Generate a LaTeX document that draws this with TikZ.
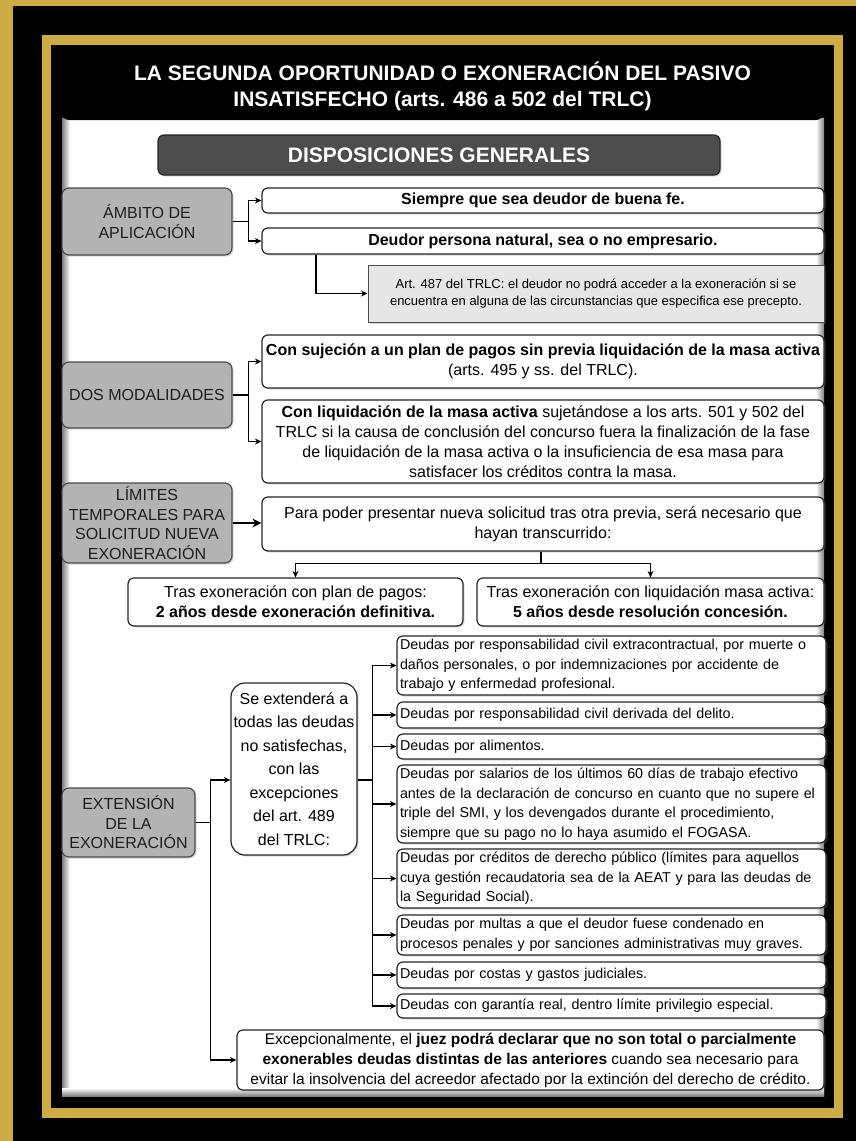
\documentclass[tikz,border=0pt]{standalone}
\usepackage{fontspec}
\setmainfont{Liberation Sans}
\usepackage{tikz}
\usetikzlibrary{shapes,arrows,arrows.meta,positioning,shadows}

\definecolor{gold}{RGB}{207,171,69}
\definecolor{catgray}{RGB}{179,179,179}
\definecolor{darkbox}{RGB}{77,77,77}
\definecolor{notegray}{RGB}{230,230,230}

\begin{document}
\begin{tikzpicture}[
    x=1pt,
    y=-1pt,
    titlebox/.style={
        rectangle,
        rounded corners=8pt,
        fill=black,
        text=white,
        align=center,
        font=\fontsize{21}{26}\selectfont\bfseries,
        inner sep=0pt
    },
    header/.style={
        rectangle,
        rounded corners=6pt,
        draw=black!85,
        line width=1.2pt,
        fill=darkbox,
        text=white,
        font=\fontsize{21}{26}\selectfont\bfseries,
        inner sep=0pt,
        drop shadow={shadow xshift=1.5pt, shadow yshift=-1.5pt, opacity=0.3}
    },
    category/.style={
        rectangle,
        rounded corners=7pt,
        draw=black!70,
        line width=1.2pt,
        fill=catgray,
        text=black!88,
        align=center,
        font=\fontsize{16}{19.5}\selectfont,
        inner sep=0pt,
        minimum width=170pt,
        drop shadow={shadow xshift=1.5pt, shadow yshift=-1.5pt, opacity=0.3}
    },
    item/.style={
        rectangle,
        rounded corners=6pt,
        draw=black!85,
        line width=1.2pt,
        fill=white,
        align=center,
        font=\fontsize{16}{20}\selectfont,
        inner sep=0pt,
        minimum width=562pt,
        drop shadow={shadow xshift=1.5pt, shadow yshift=-1.5pt, opacity=0.3}
    },
    note/.style={
        rectangle,
        draw=black!70,
        line width=1pt,
        fill=notegray,
        align=center,
        font=\fontsize{13}{17}\selectfont,
        inner sep=0pt,
        drop shadow={shadow xshift=1.5pt, shadow yshift=-1.5pt, opacity=0.3}
    },
    debt/.style={
        item,
        align=left,
        font=\fontsize{14.3}{19.5}\selectfont,
        minimum width=429pt,
        text width=423pt
    },
    line/.style={
        line width=1.2pt
    },
    arrow/.style={
        line width=1.2pt,
        ->,
        >={Stealth[length=6.5pt, width=6pt]}
    },
    bigarrow/.style={
        line width=2.5pt,
        ->,
        >={Stealth[length=9pt, width=9pt]}
    }
]

\useasboundingbox (0,0) rectangle (856,1141);

% Marco
\fill[black] (0,0) rectangle (856,1141);
\fill[gold] (0,0) rectangle (856,6);
\fill[gold] (0,0) rectangle (13,1141);
\draw[gold, line width=9.5pt] (46.5,40) rectangle (838.5,1113);
\fill[white] (62,118) rectangle (824,1096);
\shade[left color=black!50, right color=white] (62,118) rectangle (70,1096);
\shade[left color=white, right color=black!50] (816,118) rectangle (824,1096);
\shade[top color=white, bottom color=black!50] (62,1088) rectangle (824,1096);

% Titulo
\node[titlebox, minimum width=763pt, minimum height=67pt] (title) at (442.5,86.5) {
    LA SEGUNDA OPORTUNIDAD O EXONERACIÓN DEL PASIVO\\
    INSATISFECHO (arts. 486 a 502 del TRLC)
};
\node[header, minimum width=562pt, minimum height=40pt] (general) at (439,155) {DISPOSICIONES GENERALES};

% Ámbito de aplicación
\node[category, minimum height=67pt] (ambito) at (147,221.5) {ÁMBITO DE\\APLICACIÓN};
\node[item, minimum height=25pt] (buenafe) at (543,200.5) {\textbf{Siempre que sea deudor de buena fe.}};
\node[item, minimum height=26pt] (natural) at (543,241) {\textbf{Deudor persona natural, sea o no empresario.}};
\node[note, minimum width=456pt, minimum height=57pt] (art) at (596,293.5) {
    Art. 487 del TRLC: el deudor no podrá acceder a la exoneración si se\\
    encuentra en alguna de las circunstancias que especifica ese precepto.
};

% Dos modalidades
\node[category, minimum height=66pt] (modos) at (147,395) {DOS MODALIDADES};
\node[item, minimum height=53pt] (plan) at (543,361.5) {
    \textbf{Con sujeción a un plan de pagos sin previa liquidación de la masa activa}\\
    (arts. 495 y ss. del TRLC).
};
\node[item, minimum height=83pt] (liquid) at (543,441.5) {
    \textbf{Con liquidación de la masa activa} sujetándose a los arts. 501 y 502 del\\
    TRLC si la causa de conclusión del concurso fuera la finalización de la fase\\
    de liquidación de la masa activa o la insuficiencia de esa masa para\\
    satisfacer los créditos contra la masa.
};

% Límites temporales
\node[category, minimum height=80pt] (limites) at (147,523) {LÍMITES\\TEMPORALES PARA\\SOLICITUD NUEVA\\EXONERACIÓN};
\node[item, minimum height=54pt] (solicitud) at (543,524) {
    Para poder presentar nueva solicitud tras otra previa, será necesario que\\
    hayan transcurrido:
};
\node[item, minimum width=335pt, minimum height=48pt] (dosanos) at (295.5,602) {
    Tras exoneración con plan de pagos:\\
    \textbf{2 años desde exoneración definitiva.}
};
\node[item, minimum width=347pt, minimum height=48pt] (cincoanos) at (650.5,602) {
    Tras exoneración con liquidación masa activa:\\
    \textbf{5 años desde resolución concesión.}
};

% Extensión de la exoneración
\node[category, minimum width=133pt, minimum height=69pt] (extension) at (128.5,822.5) {EXTENSIÓN\\DE LA\\EXONERACIÓN};
\node[item, rounded corners=14pt, minimum width=126pt, minimum height=172pt, font=\fontsize{16}{23.5}\selectfont] (todas) at (294,769) {
    Se extenderá a\\todas las deudas\\no satisfechas,\\con las\\excepciones\\del art. 489\\del TRLC:
};
\node[debt, minimum height=59pt] (civil) at (611.5,665.5) {
    Deudas por responsabilidad civil extracontractual, por muerte o\\
    daños personales, o por indemnizaciones por accidente de\\
    trabajo y enfermedad profesional.
};
\node[debt, minimum height=26pt] (delito) at (611.5,715) {Deudas por responsabilidad civil derivada del delito.};
\node[debt, minimum height=25pt] (alimentos) at (611.5,746.5) {Deudas por alimentos.};
\node[debt, minimum height=78pt] (salarios) at (611.5,804) {
    Deudas por salarios de los últimos 60 días de trabajo efectivo\\
    antes de la declaración de concurso en cuanto que no supere el\\
    triple del SMI, y los devengados durante el procedimiento,\\
    siempre que su pago no lo haya asumido el FOGASA.
};
\node[debt, minimum height=59pt] (publico) at (611.5,878.5) {
    Deudas por créditos de derecho público (límites para aquellos\\
    cuya gestión recaudatoria sea de la AEAT y para las deudas de\\
    la Seguridad Social).
};
\node[debt, minimum height=40pt] (multas) at (611.5,935) {
    Deudas por multas a que el deudor fuese condenado en\\
    procesos penales y por sanciones administrativas muy graves.
};
\node[debt, minimum height=26pt] (costas) at (611.5,975) {Deudas por costas y gastos judiciales.};
\node[debt, minimum height=24pt] (garantia) at (611.5,1006) {Deudas con garantía real, dentro límite privilegio especial.};
\node[item, minimum width=587pt, minimum height=60pt, font=\fontsize{15.5}{20}\selectfont] (juez) at (530.5,1060) {
    Excepcionalmente, el \textbf{juez podrá declarar que no son total o parcialmente}\\
    \textbf{exonerables deudas distintas de las anteriores} cuando sea necesario para\\
    evitar la insolvencia del acreedor afectado por la extinción del derecho de crédito.
};

% Conectores
\draw[line] (ambito.east) -- ++(16,0) coordinate (ambitobus);
\draw[arrow] (ambitobus) |- (buenafe.west);
\draw[arrow] (ambitobus) |- (natural.west);
\draw[arrow] ([xshift=-227pt]natural.south) |- (art.west);

\draw[line] (modos.east) -- ++(16,0) coordinate (modosbus);
\draw[arrow] (modosbus) |- (plan.west);
\draw[arrow] (modosbus) |- (liquid.west);

\draw[bigarrow] (limites.east) -- (limites.east -| solicitud.west);
\draw[line] ([xshift=-2pt]solicitud.south) -- ++(0,12) coordinate (split);
\draw[arrow] (split) -| (dosanos.north);
\draw[arrow] (split) -| (cincoanos.north);

\draw[line] (extension.east) -- ++(15,0) coordinate (extbus);
\draw[arrow] (extbus) |- ([yshift=-11pt]todas.west);
\draw[arrow] (extbus) |- (juez.west);

\draw[line width=2.5pt] ([yshift=-11pt]todas.east) -- ++(15,0) coordinate (debtbus);
\draw[arrow] (debtbus) |- (civil.west);
\draw[arrow] (debtbus) |- (delito.west);
\draw[arrow] (debtbus) |- (alimentos.west);
\draw[arrow] (debtbus) |- (salarios.west);
\draw[arrow] (debtbus) |- (publico.west);
\draw[arrow] (debtbus) |- (multas.west);
\draw[arrow] (debtbus) |- (costas.west);
\draw[arrow] (debtbus) |- (garantia.west);

\end{tikzpicture}
\end{document}
